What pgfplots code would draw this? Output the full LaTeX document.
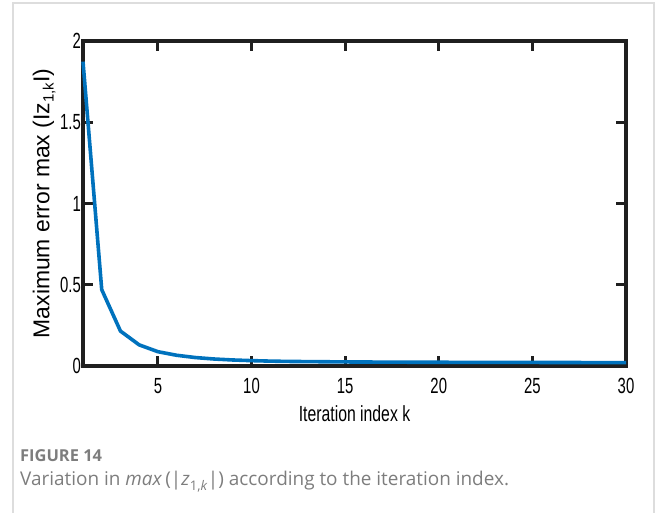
\documentclass[border=0pt]{standalone}
\usepackage{pgfplots}
\pgfplotsset{compat=1.18}
\usepackage{fontspec}
\setmainfont{Liberation Sans}
\newfontfamily\tickfont{Liberation Sans}[FakeStretch=0.68]
\newfontfamily\labfont{Liberation Sans}[FakeStretch=0.72]
\newfontfamily\capfont{Open Sans}
\definecolor{mblue}{RGB}{0,114,189}
\definecolor{capgray}{RGB}{125,125,125}
\definecolor{framegray}{RGB}{221,221,221}
\begin{document}
\begin{tikzpicture}[x=1bp,y=1bp]
\useasboundingbox (0,0) rectangle (656,513);
\draw[framegray,line width=1.2bp] (13,-5) -- (13,510) -- (654,510) -- (654,-5);
\begin{axis}[
  at={(83bp,147bp)}, anchor=south west,
  scale only axis, width=543bp, height=325bp,
  xmin=1, xmax=30, ymin=0, ymax=2,
  xtick={5,10,15,20,25,30},
  ytick={0,0.5,1,1.5,2},
  yticklabels={0,0.5,1,1.5,2},
  tick align=inside,
  major tick length=10bp,
  every tick/.style={black!88,line width=3.2bp},
  axis line style={line width=3.2bp,black!88},
  /pgf/number format/assume math mode=true,
  ticklabel style={font=\tickfont\fontsize{22}{22}\selectfont},
  xticklabel style={yshift=-9bp},
  yticklabel style={inner sep=1bp,xshift=-1bp},
  xlabel={\labfont\fontsize{22}{22}\selectfont Iteration index k},
  xlabel style={yshift=-5bp},
  ylabel={\fontsize{23}{23}\selectfont Maximum error max (Iz\raisebox{-0.35ex}{\fontsize{15}{15}\selectfont 1,k}I)},
  ylabel style={yshift=0bp},
  clip=false,
]
\addplot[mblue,line width=3.6bp] coordinates {
(1,1.873) (2,0.47) (3,0.215) (4,0.13) (5,0.088) (6,0.066) (7,0.052) (8,0.043)
(9,0.037) (10,0.033) (11,0.030) (12,0.028) (13,0.027) (14,0.026) (15,0.025)
(16,0.0245) (17,0.024) (18,0.0235) (19,0.023) (20,0.023) (21,0.0225) (22,0.0225)
(23,0.022) (24,0.022) (25,0.022) (26,0.0215) (27,0.0215) (28,0.021) (29,0.021) (30,0.021)
};
\end{axis}
\node[anchor=base west,inner sep=0,text=capgray,font=\capfont\bfseries\fontsize{16.5}{16.5}\selectfont] at (20,51) {FIGURE 14};
\node[anchor=base west,inner sep=0,text=capgray,font=\capfont\fontsize{19}{19}\selectfont] at (20,27) {Variation in \textit{max}\,(|\textit{z}\textsubscript{1,\textit{k}}|) according to the iteration index.};
\end{tikzpicture}
\end{document}
